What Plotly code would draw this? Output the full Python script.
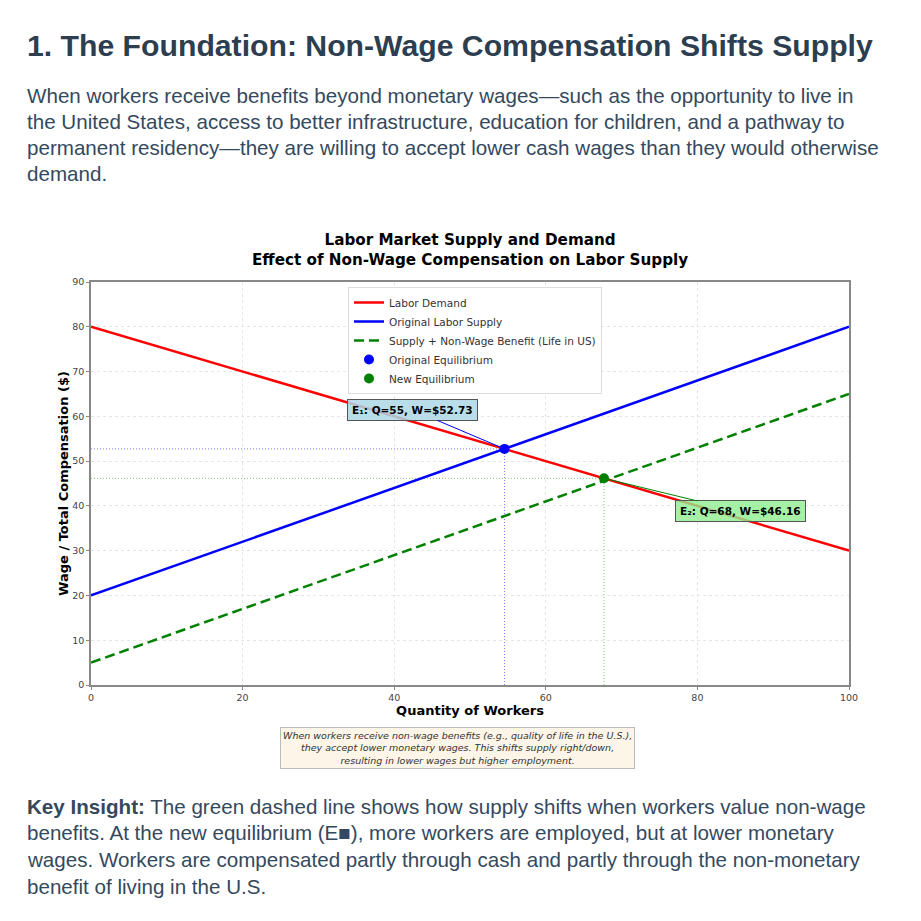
import plotly.graph_objects as go

# labor market data
quantity = [0, 100]
demand = [80, 30]
supply = [20, 80]
supply_benefit = [5, 65]

eq_orig_q, eq_orig_w = 54.55, 52.73
eq_new_q, eq_new_w = 67.68, 46.16

x_ticks = [0, 20, 40, 60, 80, 100]
y_ticks = [0, 10, 20, 30, 40, 50, 60, 70, 80, 90]

heading = "1. The Foundation: Non-Wage Compensation Shifts Supply"
intro_lines = [
    "When workers receive benefits beyond monetary wages—such as the opportunity to live in",
    "the United States, access to better infrastructure, education for children, and a pathway to",
    "permanent residency—they are willing to accept lower cash wages than they would otherwise",
    "demand.",
]
insight_lines = [
    "<b>Key Insight:</b> The green dashed line shows how supply shifts when workers value non-wage",
    "benefits. At the new equilibrium (E■), more workers are employed, but at lower monetary",
    "wages. Workers are compensated partly through cash and partly through the non-monetary",
    "benefit of living in the U.S.",
]
note_text = ("When workers receive non-wage benefits (e.g., quality of life in the U.S.),<br>"
             "they accept lower monetary wages. This shifts supply right/down,<br>"
             "resulting in lower wages but higher employment.")

# page body has an 8px margin, so the figure is a bit smaller and shifted
OFF = 8
W = 921 - OFF
MPL = "DejaVu Sans"
PAGE = "Liberation Sans, Arial, sans-serif"


def px_(x):
    # page pixel from left -> paper x
    return (x - OFF) / W


def py(y):
    # page pixel from top -> paper y
    return 1 - (y - OFF) / W


fig = go.Figure()

# dotted guide lines to the axes
for q, w, c in [(eq_orig_q, eq_orig_w, "blue"), (eq_new_q, eq_new_w, "green")]:
    fig.add_trace(go.Scatter(x=[0, q], y=[w, w], mode="lines", showlegend=False,
                             line=dict(color=c, width=1, dash="1px,2px"), opacity=0.5,
                             hoverinfo="skip"))
    fig.add_trace(go.Scatter(x=[q, q], y=[0, w], mode="lines", showlegend=False,
                             line=dict(color=c, width=1, dash="1px,2px"), opacity=0.5,
                             hoverinfo="skip"))

fig.add_trace(go.Scatter(x=quantity, y=demand, mode="lines", name="Labor Demand",
                         line=dict(color="#ff0000", width=2.5)))
fig.add_trace(go.Scatter(x=quantity, y=supply, mode="lines", name="Original Labor Supply",
                         line=dict(color="#0000ff", width=2.5)))
fig.add_trace(go.Scatter(x=quantity, y=supply_benefit, mode="lines",
                         name="Supply + Non-Wage Benefit (Life in US)",
                         line=dict(color="#008000", width=2.5, dash="10px,5px")))
fig.add_trace(go.Scatter(x=[eq_orig_q], y=[eq_orig_w], mode="markers", name="Original Equilibrium",
                         marker=dict(color="#0000ff", size=10)))
fig.add_trace(go.Scatter(x=[eq_new_q], y=[eq_new_w], mode="markers", name="New Equilibrium",
                         marker=dict(color="#008000", size=10)))

# equilibrium labels
fig.add_annotation(x=eq_orig_q, y=eq_orig_w, ax=-92, ay=-39,
                   text="<b>E₁: Q=55, W=$52.73</b>", showarrow=True, arrowhead=0,
                   arrowcolor="blue", arrowwidth=1, standoff=0,
                   font=dict(family=MPL, size=10.5, color="black"),
                   bgcolor="rgba(173,216,230,0.85)", bordercolor="#555", borderwidth=1, borderpad=4)
fig.add_annotation(x=eq_new_q, y=eq_new_w, ax=136, ay=33,
                   text="<b>E₂: Q=68, W=$46.16</b>", showarrow=True, arrowhead=0,
                   arrowcolor="green", arrowwidth=1, standoff=0,
                   font=dict(family=MPL, size=10.5, color="black"),
                   bgcolor="rgba(144,238,144,0.8)", bordercolor="#555", borderwidth=1, borderpad=4)

# chart title
fig.add_annotation(xref="paper", yref="paper", x=px_(470), y=py(250), showarrow=False,
                   text="<b>Labor Market Supply and Demand<br>Effect of Non-Wage Compensation on Labor Supply</b>",
                   font=dict(family=MPL, size=15.2, color="black"), xanchor="center", yanchor="middle")

# note box under chart
fig.add_annotation(xref="paper", yref="paper", x=px_(457), y=py(748), showarrow=False,
                   text="<i>" + note_text + "</i>", align="center",
                   font=dict(family=MPL, size=9.5, color="#333"),
                   bgcolor="#fcf5e8", bordercolor="#bbb", borderwidth=1, borderpad=2,
                   xanchor="center", yanchor="middle")

# page text
fig.add_annotation(xref="paper", yref="paper", x=px_(25), y=py(45), showarrow=False,
                   text="<b>" + heading + "</b>", xanchor="left", yanchor="middle",
                   font=dict(family=PAGE, size=30.2, color="#2c3e50"))
for i, line in enumerate(intro_lines):
    fig.add_annotation(xref="paper", yref="paper", x=px_(25), y=py(96 + i * 25.7), showarrow=False,
                       text=line, xanchor="left", yanchor="middle",
                       font=dict(family=PAGE, size=20.6, color="#34495e"))
for i, line in enumerate(insight_lines):
    fig.add_annotation(xref="paper", yref="paper", x=px_(25), y=py(806 + i * 26.7), showarrow=False,
                       text=line, xanchor="left", yanchor="middle",
                       font=dict(family=PAGE, size=20.6, color="#34495e"))

axis_common = dict(showline=True, linecolor="#888", linewidth=1.5, mirror=True,
                   ticks="outside", ticklen=3, tickcolor="#888", automargin=False,
                   tickfont=dict(family=MPL, size=9.5, color="#444"),
                   showgrid=True, gridcolor="#e6e6e6", griddash="dot", gridwidth=1,
                   zeroline=False)

fig.update_layout(
    width=W, height=W,
    margin=dict(l=0, r=0, t=0, b=0),
    paper_bgcolor="white", plot_bgcolor="white",
    xaxis=dict(range=[0, 100], tickvals=x_ticks, domain=[px_(91), px_(849)],
               title=dict(text="<b>Quantity of Workers</b>", standoff=4,
                          font=dict(family=MPL, size=13, color="black")),
               **axis_common),
    yaxis=dict(range=[0, 90], tickvals=y_ticks, domain=[py(685), py(282)],
               title=dict(text="<b>Wage / Total Compensation ($)</b>", standoff=1,
                          font=dict(family=MPL, size=13, color="black")),
               **axis_common),
    legend=dict(x=px_(348), y=py(287), xanchor="left", yanchor="top",
                bgcolor="rgba(255,255,255,0.85)", bordercolor="#ddd", borderwidth=1,
                font=dict(family=MPL, size=10.5, color="#333"), tracegroupgap=0,
                itemwidth=30),
    showlegend=True,
)

fig.write_html("out.html")
